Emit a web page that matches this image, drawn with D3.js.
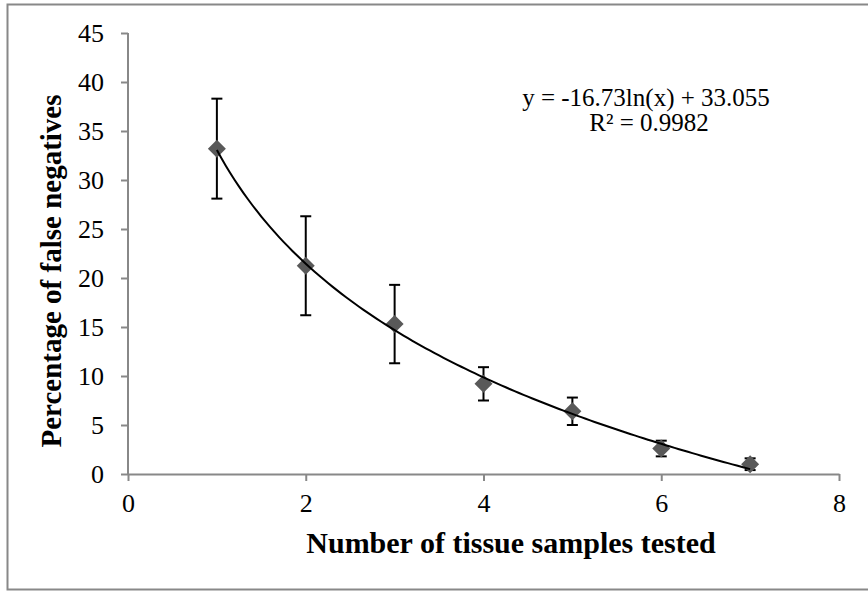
<!DOCTYPE html>
<html>
<head>
<meta charset="utf-8">
<script src="https://cdn.jsdelivr.net/npm/d3@7"></script>
<style>
  body { margin: 0; background: #fff; }
  text { font-family: "Liberation Serif", "Times New Roman", serif; fill: #000; }
</style>
</head>
<body>
<div id="chart"></div>
<script>
// data
var samples = [1, 2, 3, 4, 5, 6, 7];
var falseNeg = [33.2, 21.25, 15.3, 9.2, 6.4, 2.6, 1.0];
var errBars = [5.1, 5.05, 4.0, 1.7, 1.4, 0.8, 0.6];
var xTicks = [0, 2, 4, 6, 8];
var yTicks = [0, 5, 10, 15, 20, 25, 30, 35, 40, 45];
var fitA = -16.73, fitB = 33.055;

var svgWidth = 868;
var svgHeight = 591;
var margin = { top: 33, right: 29, bottom: 117, left: 128 };
var width = svgWidth - margin.left - margin.right;
var height = svgHeight - margin.top - margin.bottom;

var svg = d3.select("#chart")
  .append("svg")
  .attr("width", svgWidth)
  .attr("height", svgHeight);

// outer frame
svg.append("rect")
  .attr("x", 7.5).attr("y", 4.5)
  .attr("width", 870).attr("height", 585)
  .attr("fill", "none")
  .attr("stroke", "#888")
  .attr("stroke-width", 2);

var chartGroup = svg.append("g")
  .attr("transform", `translate(${margin.left}, ${margin.top})`);

var xScale = d3.scaleLinear().domain([0, 8]).range([0, width]);
var yScale = d3.scaleLinear().domain([0, 45]).range([height, 0]);

var bottomAxis = d3.axisBottom(xScale).tickValues(xTicks).tickSize(7).tickSizeOuter(0).tickPadding(13);
var leftAxis = d3.axisLeft(yScale).tickValues(yTicks).tickSize(7).tickSizeOuter(0).tickPadding(17);

var xAxisG = chartGroup.append("g")
  .attr("transform", `translate(0, ${height})`)
  .call(bottomAxis);
var yAxisG = chartGroup.append("g").call(leftAxis);

[xAxisG, yAxisG].forEach(function(g) {
  g.attr("font-size", 26).attr("font-family", "Liberation Serif");
  g.selectAll("path, line").attr("stroke", "#888").attr("stroke-width", 2);
  g.selectAll("text").attr("fill", "#000").style("font-size", "26px");
});
yAxisG.select(".domain").attr("d", `M0,${height}V0`);

// error bars
var rows = samples.map(function(s, i) { return { x: s, y: falseNeg[i], e: errBars[i] }; });

var err = chartGroup.selectAll(".err").data(rows).enter().append("g").attr("class", "err");
err.append("line")
  .attr("x1", d => xScale(d.x)).attr("x2", d => xScale(d.x))
  .attr("y1", d => yScale(d.y + d.e)).attr("y2", d => yScale(d.y - d.e));
err.append("line")
  .attr("x1", d => xScale(d.x) - 5.5).attr("x2", d => xScale(d.x) + 5.5)
  .attr("y1", d => yScale(d.y + d.e)).attr("y2", d => yScale(d.y + d.e));
err.append("line")
  .attr("x1", d => xScale(d.x) - 5.5).attr("x2", d => xScale(d.x) + 5.5)
  .attr("y1", d => yScale(d.y - d.e)).attr("y2", d => yScale(d.y - d.e));
err.selectAll("line").attr("stroke", "#000").attr("stroke-width", 2);

// markers
chartGroup.selectAll(".pt").data(rows).enter().append("path")
  .attr("class", "pt")
  .attr("d", "M0,-9L9,0L0,9L-9,0Z")
  .attr("transform", d => `translate(${xScale(d.x)}, ${yScale(d.y)})`)
  .attr("fill", "#595959");

// log trendline
var fitX = d3.range(1, 7.001, 0.05);
var line = d3.line()
  .x(d => xScale(d))
  .y(d => yScale(fitA * Math.log(d) + fitB));
chartGroup.append("path")
  .datum(fitX)
  .attr("d", line)
  .attr("fill", "none")
  .attr("stroke", "#000")
  .attr("stroke-width", 2);

// equation
svg.append("text")
  .attr("x", 646).attr("y", 106)
  .attr("text-anchor", "middle")
  .style("font-size", "25px")
  .text("y = -16.73ln(x) + 33.055");
svg.append("text")
  .attr("x", 649).attr("y", 131)
  .attr("text-anchor", "middle")
  .style("font-size", "25px")
  .text("R² = 0.9982");

// axis titles
svg.append("text")
  .attr("transform", "translate(61, 271) rotate(-90)")
  .attr("text-anchor", "middle")
  .style("font-size", "29px")
  .style("font-weight", "bold")
  .text("Percentage of false negatives");

svg.append("text")
  .attr("x", 511).attr("y", 553)
  .attr("text-anchor", "middle")
  .style("font-size", "30px")
  .style("font-weight", "bold")
  .text("Number of tissue samples tested");
</script>
</body>
</html>
